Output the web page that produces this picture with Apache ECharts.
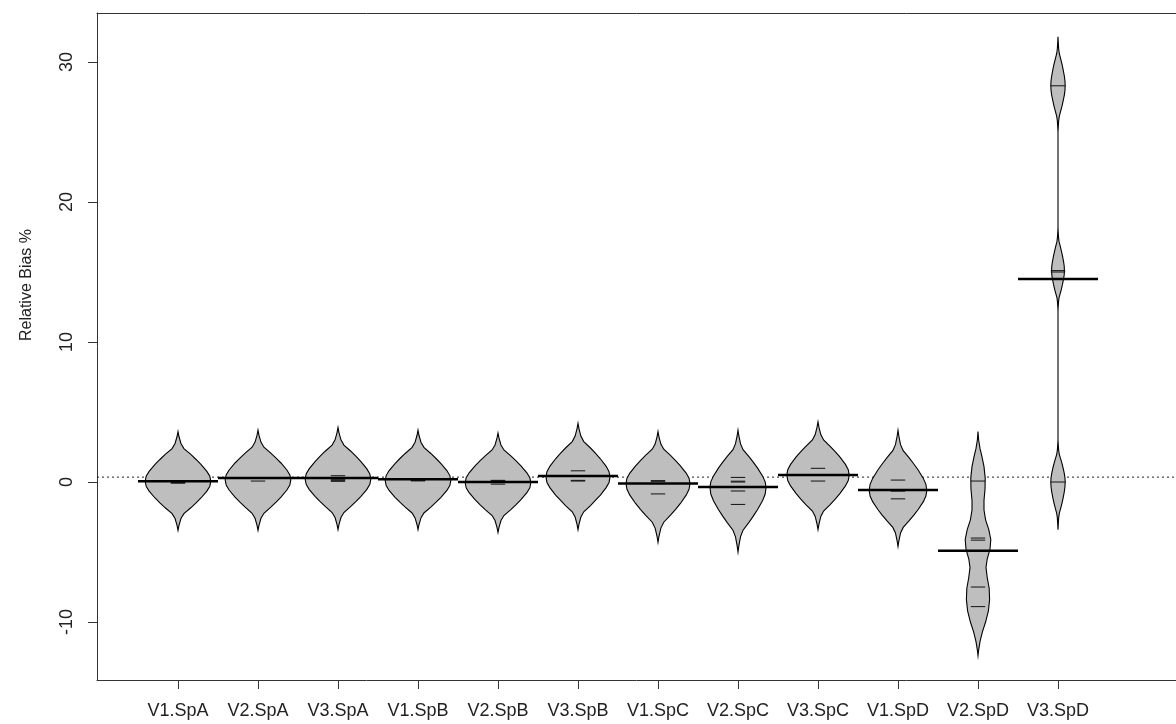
<!DOCTYPE html>
<html>
<head>
<meta charset="utf-8">
<script src="https://cdn.jsdelivr.net/npm/echarts@6/dist/echarts.min.js"></script>
<style>
html,body{margin:0;padding:0;background:#fff;}
#chart{width:1176px;height:724px;}
</style>
</head>
<body>
<div id="chart"></div>
<script>
// ---- data ----
const categories = ['V1.SpA','V2.SpA','V3.SpA','V1.SpB','V2.SpB','V3.SpB','V1.SpC','V2.SpC','V3.SpC','V1.SpD','V2.SpD','V3.SpD'];
const yTickValues = [-10, 0, 10, 20, 30];
const xTickValues = [1,2,3,4,5,6,7,8,9,10,11,12];
const yAxisTitle = 'Relative Bias %';
const overallMean = 0.35;
const beanMeans = [0.05, 0.28, 0.28, 0.2, 0.0, 0.43, -0.1, -0.35, 0.5, -0.57, -4.9, 14.5];
// individual observations (bean lines)
const obs1 = [0.0, -0.05, -0.08];
const obs2 = [0.32, 0.28, 0.07];
const obs3 = [0.45, 0.2, 0.12, 0.05];
const obs4 = [0.16, 0.12, 0.08];
const obs5 = [0.12, 0.07, -0.15];
const obs6 = [0.8, 0.12, 0.07];
const obs7 = [0.1, 0.05, -0.85];
const obs8 = [0.33, 0.06, 0.0, -0.64, -1.6];
const obs9 = [0.98, 0.07];
const obs10 = [0.14, -0.58, -0.65, -1.2];
const obs11 = [0.07, -4.0, -4.15, -7.5, -8.9];
const obs12 = [28.3, 15.1, 15.0, 0.0];
// density outlines: [value, half width in category units], top to bottom
const dens1 = [[3.6,0],[3.25,0.012],[2.75,0.037],[2.39,0.074],[1.97,0.16],[1.61,0.226],[1.26,0.287],[0.76,0.361],[0.41,0.398],[0.05,0.41],[-0.3,0.398],[-0.65,0.361],[-1.14,0.287],[-1.49,0.226],[-1.84,0.16],[-2.26,0.074],[-2.61,0.037],[-3.1,0.012],[-3.45,0]];
const dens2 = [[3.7,0],[3.35,0.012],[2.85,0.037],[2.49,0.074],[2.07,0.16],[1.71,0.226],[1.36,0.287],[0.86,0.361],[0.51,0.398],[0.15,0.41],[-0.21,0.398],[-0.57,0.361],[-1.07,0.287],[-1.43,0.226],[-1.79,0.16],[-2.23,0.074],[-2.59,0.037],[-3.09,0.012],[-3.45,0]];
const dens3 = [[3.9,0],[3.53,0.012],[3.01,0.037],[2.64,0.074],[2.2,0.16],[1.83,0.226],[1.46,0.287],[0.94,0.361],[0.57,0.398],[0.2,0.41],[-0.16,0.398],[-0.52,0.361],[-1.02,0.287],[-1.38,0.226],[-1.74,0.16],[-2.18,0.074],[-2.54,0.037],[-3.04,0.012],[-3.4,0]];
const dens4 = [[3.7,0],[3.34,0.012],[2.84,0.037],[2.48,0.074],[2.04,0.16],[1.68,0.226],[1.32,0.287],[0.82,0.361],[0.46,0.398],[0.1,0.41],[-0.25,0.398],[-0.6,0.361],[-1.09,0.287],[-1.44,0.226],[-1.79,0.16],[-2.21,0.074],[-2.56,0.037],[-3.05,0.012],[-3.4,0]];
const dens5 = [[3.5,0],[3.15,0.012],[2.65,0.037],[2.29,0.074],[1.87,0.16],[1.51,0.226],[1.16,0.287],[0.66,0.361],[0.31,0.398],[-0.05,0.41],[-0.41,0.398],[-0.76,0.361],[-1.26,0.287],[-1.61,0.226],[-1.97,0.16],[-2.39,0.074],[-2.75,0.037],[-3.25,0.012],[-3.6,0]];
const dens6 = [[4.2,0],[3.82,0.012],[3.28,0.036],[2.89,0.072],[2.43,0.156],[2.04,0.22],[1.66,0.28],[1.12,0.352],[0.74,0.388],[0.35,0.4],[-0.03,0.388],[-0.4,0.352],[-0.93,0.28],[-1.3,0.22],[-1.68,0.156],[-2.13,0.072],[-2.5,0.036],[-3.03,0.012],[-3.4,0]];
const dens7 = [[3.6,0],[3.23,0.012],[2.71,0.036],[2.34,0.072],[1.9,0.156],[1.53,0.22],[1.16,0.28],[0.64,0.352],[0.27,0.388],[-0.1,0.4],[-0.52,0.388],[-0.94,0.352],[-1.53,0.28],[-1.95,0.22],[-2.37,0.156],[-2.87,0.072],[-3.29,0.036],[-3.88,0.012],[-4.3,0]];
const dens8 = [[3.7,0],[3.29,0.011],[2.72,0.032],[2.31,0.063],[1.81,0.137],[1.4,0.193],[0.99,0.245],[0.42,0.308],[0.01,0.34],[-0.4,0.35],[-0.86,0.34],[-1.32,0.308],[-1.96,0.245],[-2.42,0.193],[-2.88,0.137],[-3.44,0.063],[-3.9,0.032],[-4.54,0.011],[-5.0,0]];
const dens9 = [[4.3,0],[3.92,0.012],[3.39,0.035],[3.01,0.07],[2.55,0.152],[2.17,0.215],[1.79,0.273],[1.26,0.343],[0.88,0.378],[0.5,0.39],[0.11,0.378],[-0.28,0.343],[-0.83,0.273],[-1.22,0.215],[-1.61,0.152],[-2.07,0.07],[-2.46,0.035],[-3.01,0.012],[-3.4,0]];
const dens10 = [[3.7,0],[3.27,0.011],[2.67,0.032],[2.24,0.065],[1.72,0.14],[1.29,0.198],[0.86,0.252],[0.26,0.317],[-0.17,0.349],[-0.6,0.36],[-1.0,0.349],[-1.4,0.317],[-1.96,0.252],[-2.36,0.198],[-2.76,0.14],[-3.24,0.065],[-3.64,0.032],[-4.2,0.011],[-4.6,0]];
const dens11 = [[3.6,0],[3.0,0.008],[2.4,0.025],[1.8,0.05],[1.1,0.075],[0.3,0.09],[-0.5,0.088],[-1.3,0.075],[-2.0,0.075],[-2.7,0.095],[-3.4,0.135],[-4.1,0.16],[-4.8,0.15],[-5.5,0.115],[-6.1,0.1],[-6.8,0.115],[-7.6,0.14],[-8.4,0.145],[-9.2,0.13],[-10.0,0.095],[-10.7,0.055],[-11.4,0.025],[-12.0,0.008],[-12.4,0]];
const dens12 = [[31.8,0],[31.45,0.003],[30.96,0.008],[30.61,0.016],[30.19,0.035],[29.84,0.05],[29.49,0.063],[29.0,0.079],[28.65,0.087],[28.3,0.09],[27.97,0.087],[27.64,0.079],[27.18,0.063],[26.85,0.05],[26.52,0.035],[26.12,0.016],[25.79,0.008],[25.33,0.003],[25.0,0],
  [18.2,0],[17.89,0.002],[17.46,0.007],[17.15,0.014],[16.77,0.031],[16.46,0.044],[16.15,0.056],[15.72,0.07],[15.41,0.078],[15.1,0.08],[14.81,0.078],[14.52,0.07],[14.11,0.056],[13.82,0.044],[13.53,0.031],[13.19,0.014],[12.9,0.007],[12.49,0.002],[12.2,0],
  [3.0,0],[2.7,0.003],[2.28,0.008],[1.98,0.016],[1.62,0.035],[1.32,0.05],[1.02,0.063],[0.6,0.079],[0.3,0.087],[0.0,0.09],[-0.34,0.087],[-0.68,0.079],[-1.16,0.063],[-1.5,0.05],[-1.84,0.035],[-2.24,0.016],[-2.58,0.008],[-3.06,0.003],[-3.4,0]];

const beanDensities = [dens1,dens2,dens3,dens4,dens5,dens6,dens7,dens8,dens9,dens10,dens11,dens12];
const beanObs = [obs1,obs2,obs3,obs4,obs5,obs6,obs7,obs8,obs9,obs10,obs11,obs12];

// ---- chart ----
const FONT = '"Liberation Sans", Arial, sans-serif';
const INK = '#222';
const AXIS = '#333';
const BEAN_LINE_HALF = 0.09;
const MEAN_LINE_HALF = 0.5;
const X_MIN = -0.0125, X_MAX = 13.475;

const chart = echarts.init(document.getElementById('chart'), null, {renderer: 'canvas'});

const beanData = categories.map((c, i) => [i + 1, beanMeans[i]]);
const obsData = [];
beanObs.forEach((arr, i) => arr.forEach(v => obsData.push([i + 1, v])));

const option = {
  animation: false,
  backgroundColor: '#fff',
  grid: {left: 97, top: 13, right: 0, bottom: 44, show: false},
  xAxis: [{
    type: 'value', min: X_MIN, max: X_MAX, position: 'bottom',
    axisLine: {show: true, onZero: false, lineStyle: {color: AXIS, width: 1}},
    axisTick: {show: true, customValues: xTickValues, length: 9, lineStyle: {color: AXIS}},
    axisLabel: {show: true, customValues: xTickValues, formatter: v => categories[Math.round(v) - 1] || '', fontSize: 18, color: INK, fontFamily: FONT, margin: 22},
    splitLine: {show: false}
  }, {
    type: 'value', min: X_MIN, max: X_MAX, position: 'top',
    axisLine: {show: true, onZero: false, lineStyle: {color: AXIS, width: 1}},
    axisTick: {show: false}, axisLabel: {show: false}, splitLine: {show: false}
  }],
  yAxis: {
    type: 'value', min: -14.14, max: 33.5,
    axisLine: {show: true, onZero: false, lineStyle: {color: AXIS, width: 1}},
    axisTick: {show: true, customValues: yTickValues, length: 9, lineStyle: {color: AXIS}},
    axisLabel: {show: true, customValues: yTickValues, rotate: 90, fontSize: 18, color: INK, fontFamily: FONT, margin: 21},
    splitLine: {show: false}
  },
  graphic: [{
    type: 'text', x: 27, y: 285, rotation: Math.PI / 2,
    style: {text: yAxisTitle, fontSize: 16, fill: INK, fontFamily: FONT, textAlign: 'center', textVerticalAlign: 'middle'}
  }],
  series: [
    {
      type: 'line', z: 1, symbol: 'none', silent: true,
      data: [[X_MIN, overallMean], [X_MAX, overallMean]],
      lineStyle: {type: [2, 3], color: '#222', width: 1}
    },
    {
      type: 'custom', z: 2, silent: true,
      data: beanData,
      encode: {x: 0, y: 1},
      renderItem: function (params, api) {
        const i = params.dataIndex;
        const cx = i + 1;
        const prof = beanDensities[i];
        const pts = [];
        for (let k = 0; k < prof.length; k++) pts.push(api.coord([cx + prof[k][1], prof[k][0]]));
        for (let k = prof.length - 1; k >= 0; k--) pts.push(api.coord([cx - prof[k][1], prof[k][0]]));
        return {
          type: 'polygon',
          shape: {points: pts},
          style: {fill: '#bebebe', stroke: '#000', lineWidth: 1.1}
        };
      }
    },
    {
      type: 'custom', z: 3, silent: true,
      data: obsData,
      encode: {x: 0, y: 1},
      renderItem: function (params, api) {
        const cx = api.value(0), v = api.value(1);
        const a = api.coord([cx - BEAN_LINE_HALF, v]);
        const b = api.coord([cx + BEAN_LINE_HALF, v]);
        return {type: 'line', shape: {x1: a[0], y1: a[1], x2: b[0], y2: b[1]}, style: {stroke: '#111', lineWidth: 1}};
      }
    },
    {
      type: 'custom', z: 4, silent: true,
      data: beanData,
      encode: {x: 0, y: 1},
      renderItem: function (params, api) {
        const cx = api.value(0), v = api.value(1);
        const a = api.coord([cx - MEAN_LINE_HALF, v]);
        const b = api.coord([cx + MEAN_LINE_HALF, v]);
        return {type: 'line', shape: {x1: a[0], y1: a[1], x2: b[0], y2: b[1]}, style: {stroke: '#000', lineWidth: 2.5}};
      }
    }
  ]
};
chart.setOption(option);
</script>
</body>
</html>
